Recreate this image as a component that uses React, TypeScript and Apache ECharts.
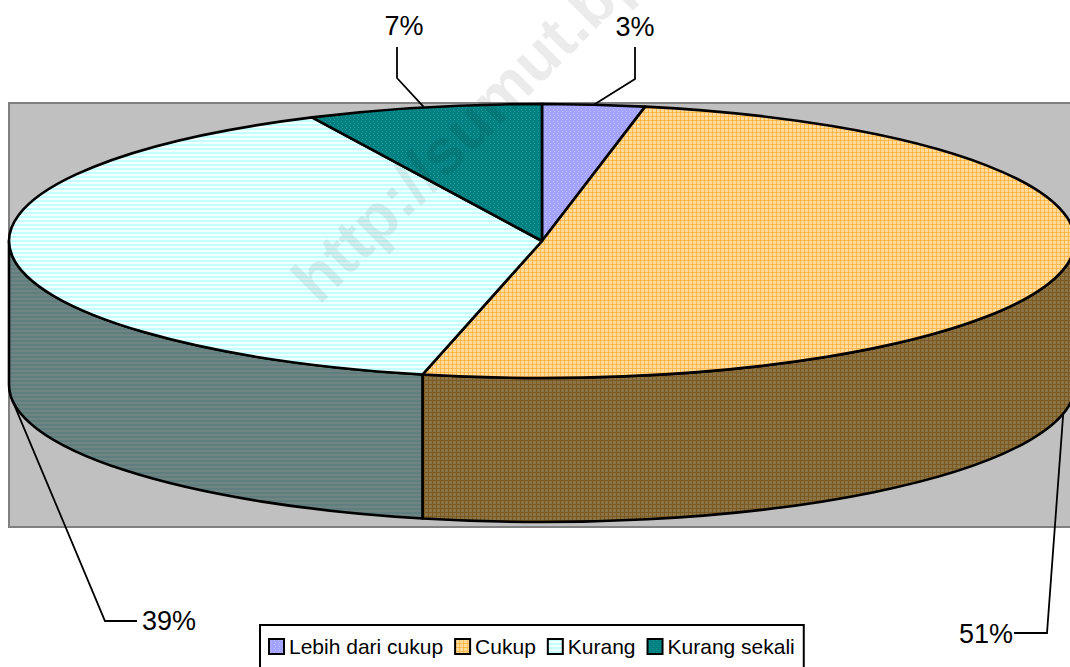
import React, { useEffect, useRef } from "react";
import * as echarts from "echarts";

const categories = ["Lebih dari cukup", "Cukup", "Kurang", "Kurang sekali"];
const seriesValues = [3.1, 50.5, 39.3, 7.1];
const percentLabels = ["3%", "51%", "39%", "7%"];

const WIDTH = 1070;
const HEIGHT = 667;
const CX = 542;
const CY = 241;
const RX = 533;
const RY = 137;
const DEPTH = 144;
const FONT = "Liberation Sans, Arial, sans-serif";

// [elbow x, elbow y, label end x, label end y, label centre x, label centre y]
const leaders = [
  [635, 79, 635, 47, 635, 27],
  [1047, 633, 1014, 633, 986, 634],
  [105, 621, 137, 621, 169, 621],
  [397, 78, 397, 47, 404, 26],
];

function tile(rows: string[], palette: Record<string, string>) {
  const c = document.createElement("canvas");
  c.width = rows[0].length;
  c.height = rows.length;
  const ctx = c.getContext("2d")!;
  rows.forEach((r, y) =>
    r.split("").forEach((k, x) => {
      ctx.fillStyle = palette[k];
      ctx.fillRect(x, y, 1, 1);
    })
  );
  return { image: c, repeat: "repeat", imageWidth: c.width, imageHeight: c.height } as any;
}

const DOTS = ["aaaa", "abaa", "aaaa", "aaba"];
const GRID = ["aaaa", "abbb", "abbb", "abbb"];
const STRIPES = ["aaaa", "aaaa", "bbbb", "bbbb"];

function buildPatterns() {
  return {
    top: [
      tile(DOTS, { a: "#a3a3ff", b: "#c0c0ff" }),
      tile(GRID, { a: "#ffb84d", b: "#ffdc9c" }),
      tile(STRIPES, { a: "#c4ffff", b: "#f0ffff" }),
      tile(DOTS, { a: "#008080", b: "#1f9a9a" }),
    ],
    wall: [
      null,
      tile(GRID, { a: "#7c5a20", b: "#8a7448" }),
      tile(STRIPES, { a: "#5f7f7f", b: "#708484" }),
      null,
    ],
  };
}

const px = (t: number) => CX + RX * Math.sin(t);
const py = (t: number) => CY - RY * Math.cos(t);

function arc(t1: number, t2: number, dy: number, reverse = false) {
  const large = Math.abs(t2 - t1) > Math.PI ? 1 : 0;
  const sweep = reverse ? 0 : 1;
  const end = reverse ? t1 : t2;
  return `A ${RX} ${RY} 0 ${large} ${sweep} ${px(end)} ${py(end) + dy}`;
}

export default function App() {
  const ref = useRef<HTMLDivElement>(null);
  useEffect(() => {
    const chart = echarts.init(ref.current!, undefined, { renderer: "svg" });
    const patterns = buildPatterns();
    const total = seriesValues.reduce((a, b) => a + b, 0);

    const series = categories.map((name, i) => {
      const before = seriesValues.slice(0, i).reduce((a, b) => a + b, 0);
      const t1 = (before / total) * 2 * Math.PI;
      const t2 = ((before + seriesValues[i]) / total) * 2 * Math.PI;
      const mid = (t1 + t2) / 2;
      return {
        type: "custom",
        name,
        coordinateSystem: "none",
        silent: true,
        z: 2,
        itemStyle: { color: patterns.top[i], borderColor: "#000", borderWidth: 2 },
        data: [[seriesValues[i]]],
        renderItem: () => {
          const children: any[] = [];
          const lo = Math.max(t1, Math.PI / 2);
          const hi = Math.min(t2, (3 * Math.PI) / 2);
          const stroke = { stroke: "#000", lineWidth: 2.6, lineJoin: "round" };
          if (hi > lo && patterns.wall[i]) {
            children.push({
              type: "path",
              shape: {
                pathData:
                  `M ${px(lo)} ${py(lo)} ${arc(lo, hi, 0)} L ${px(hi)} ${py(hi) + DEPTH} ` +
                  `${arc(lo, hi, DEPTH, true)} Z`,
              },
              style: { fill: patterns.wall[i], ...stroke },
            });
          }
          children.push({
            type: "path",
            shape: {
              pathData: `M ${CX} ${CY} L ${px(t1)} ${py(t1)} ${arc(t1, t2, 0)} Z`,
            },
            style: { fill: patterns.top[i], ...stroke },
          });
          const m = leaders[i];
          const front = Math.cos(mid) < 0 ? DEPTH : 0;
          children.push({
            type: "polyline",
            z2: 5,
            shape: { points: [[px(mid), py(mid) + front], [m[0], m[1]], [m[2], m[3]]] },
            style: { fill: "none", stroke: "#000", lineWidth: 1.8 },
          });
          children.push({
            type: "text",
            z2: 5,
            style: {
              text: percentLabels[i],
              x: m[4],
              y: m[5],
              fill: "#000",
              font: `27px ${FONT}`,
              align: "center",
              verticalAlign: "middle",
            },
          });
          return { type: "group", children };
        },
      };
    });

    chart.setOption({
      animation: false,
      backgroundColor: "#fff",
      legend: {
        left: 260,
        top: 625,
        orient: "horizontal",
        selectedMode: false,
        itemWidth: 15,
        itemHeight: 15,
        itemGap: 11,
        padding: [11, 9, 20, 8],
        backgroundColor: "#fff",
        borderColor: "#000",
        borderWidth: 2,
        borderRadius: 0,
        textStyle: { fontFamily: FONT, fontSize: 21, color: "#000" },
        data: categories.map((name) => ({ name, icon: "rect" })),
      },
      graphic: [
        {
          type: "rect",
          z: -10,
          shape: { x: 9, y: 103, width: 1070, height: 424 },
          style: { fill: "#c0c0c0", stroke: "#808080", lineWidth: 2 },
        },
        {
          type: "text",
          z: 100,
          silent: true,
          x: 326,
          y: 313,
          rotation: Math.PI / 4,
          style: {
            text: "http://sumut.bp",
            fill: "rgba(0,0,0,0.08)",
            font: `bold 64px ${FONT}`,
            align: "left",
            verticalAlign: "bottom",
          },
        },
      ],
      series,
    });
    return () => chart.dispose();
  }, []);
  return (
    <div
      ref={ref}
      style={{ position: "fixed", left: 0, top: 0, width: WIDTH, height: HEIGHT }}
    />
  );
}
